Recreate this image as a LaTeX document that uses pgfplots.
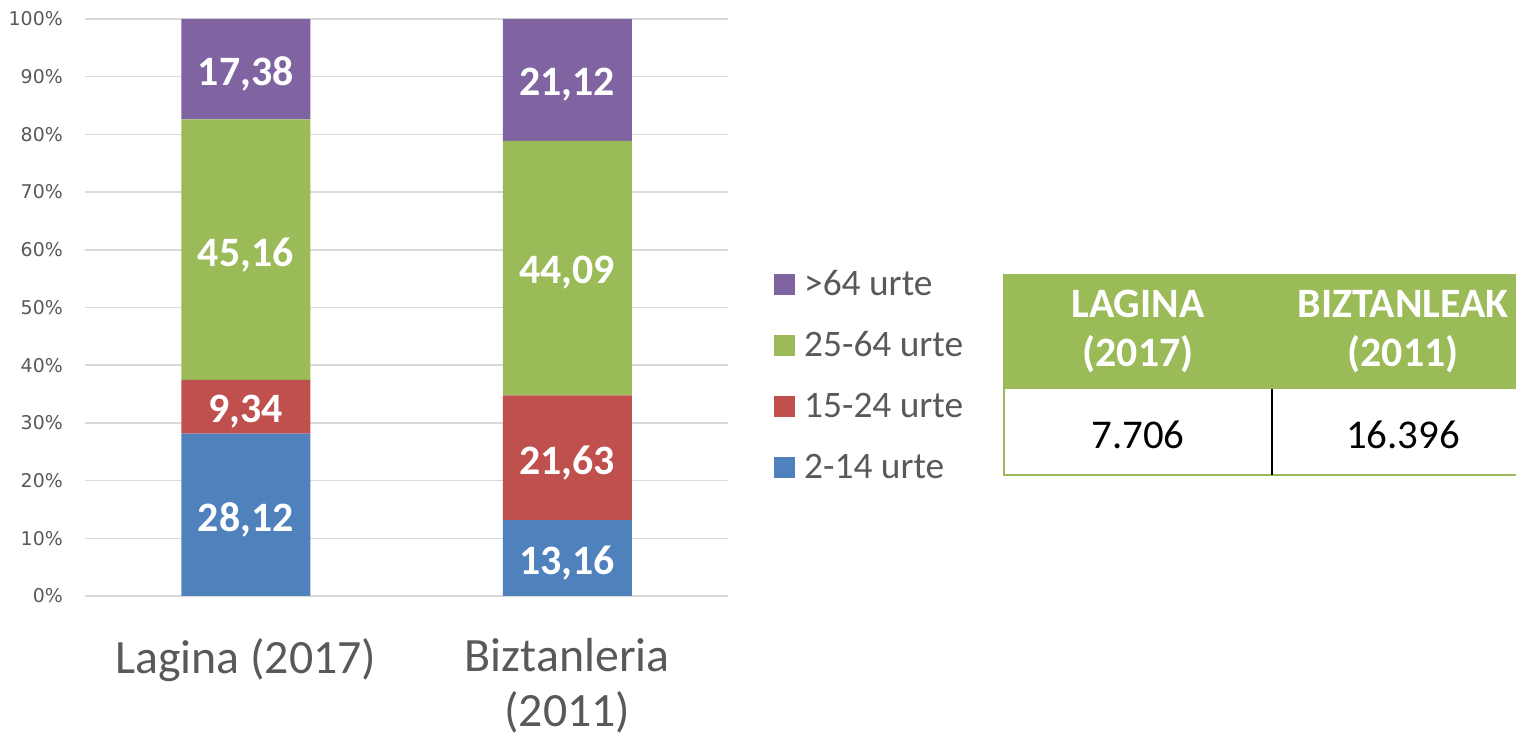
\documentclass[border=0pt]{standalone}
\usepackage{pgfplots}
\usepackage{pgfplotstable}
\pgfplotsset{compat=1.18}
\usepackage{fontspec}
\setmainfont{Carlito}
\newfontfamily\tickfont{DejaVu Sans}
\definecolor{cblue}{HTML}{4F81BD}
\definecolor{cred}{HTML}{C0504D}
\definecolor{cgreen}{HTML}{9BBB59}
\definecolor{cpurple}{HTML}{8064A2}
\definecolor{cgrid}{HTML}{D9D9D9}
\definecolor{ctext}{HTML}{595959}
\pgfplotstableread{
x a b c d
0 28.12 9.34 45.16 17.38
1 13.16 21.63 44.09 21.12
}\datatable
\pgfplotstableread{
x y label
0 14.06 28,12
0 32.79 9,34
0 60.04 45,16
0 91.31 17,38
1 6.58 13,16
1 23.975 21,63
1 56.835 44,09
1 89.44 21,12
}\labeltable
\begin{document}
\begin{tikzpicture}[x=1bp,y=1bp]
\useasboundingbox (0,0) rectangle (1516,738);
\begin{axis}[
  at={(85bp,142bp)}, anchor=south west,
  scale only axis, width=643bp, height=577bp,
  ybar stacked, bar width=129bp,
  xmin=-0.5, xmax=1.5, ymin=0, ymax=100,
  xtick={0,1}, xticklabels={Lagina (2017), {Biztanleria\\(2011)}},
  ytick={0,10,...,100},
  yticklabel={\pgfmathprintnumber{\tick}\%},
  /pgf/number format/assume math mode=true,
  axis line style={draw=none},
  major tick length=0pt,
  ymajorgrids, grid style={cgrid, line width=1.5bp},
  yticklabel style={font=\tickfont\fontsize{19}{19}\selectfont, text=ctext, anchor=east, inner sep=0pt, xshift=-22bp},
  xticklabel style={font=\fontsize{48}{55}\selectfont, text=ctext, anchor=north, inner sep=0pt, yshift=-42bp, align=center},
  legend image code/.code={\fill[#1] (0bp,1bp) rectangle (21bp,22bp);},
  reverse legend,
  legend style={at={(1.0715,0.3787)}, anchor=west, draw=none, fill=none, inner sep=0pt,
    font=\fontsize{37.5}{37.5}\selectfont, text=ctext, row sep=21bp,
    /tikz/every odd column/.append style={column sep=9bp},
    nodes={inner sep=0pt, text height=30bp, text depth=10bp, anchor=base west}},
]
\addplot[fill=cblue, draw=none] table[x=x,y=a]{\datatable};
\addplot[fill=cred, draw=none] table[x=x,y=b]{\datatable};
\addplot[fill=cgreen, draw=none] table[x=x,y=c]{\datatable};
\addplot[fill=cpurple, draw=none] table[x=x,y=d]{\datatable};
\legend{2-14 urte, 15-24 urte, 25-64 urte, >64 urte}
\end{axis}
\begin{axis}[
  at={(85bp,142bp)}, anchor=south west,
  scale only axis, width=643bp, height=577bp,
  xmin=-0.5, xmax=1.5, ymin=0, ymax=100,
  hide axis, clip=false,
]
\addplot[draw=none, mark=none, nodes near coords, point meta=explicit symbolic,
  nodes near coords style={font=\bfseries\fontsize{42}{42}\selectfont, text=white, anchor=center, inner sep=0pt, yshift=-5bp}]
  table[x=x,y=y,meta=label]{\labeltable};
\end{axis}
\fill[cgreen] (1003,349) rectangle (1516,464);
\draw[cgreen, line width=2bp] (1004,349) -- (1004,263) -- (1516,263);
\draw[black, line width=2bp] (1272,349) -- (1272,263);
\node[align=center, text=white, font=\bfseries\fontsize{42}{49}\selectfont] at (1138,406.5) {LAGINA\\(2017)};
\node[align=center, text=white, font=\bfseries\fontsize{42}{49}\selectfont] at (1403,406.5) {BIZTANLEAK\\(2011)};
\node[font=\fontsize{41}{41}\selectfont] at (1138,303) {7.706};
\node[font=\fontsize{41}{41}\selectfont] at (1403,303) {16.396};
\end{tikzpicture}
\end{document}
